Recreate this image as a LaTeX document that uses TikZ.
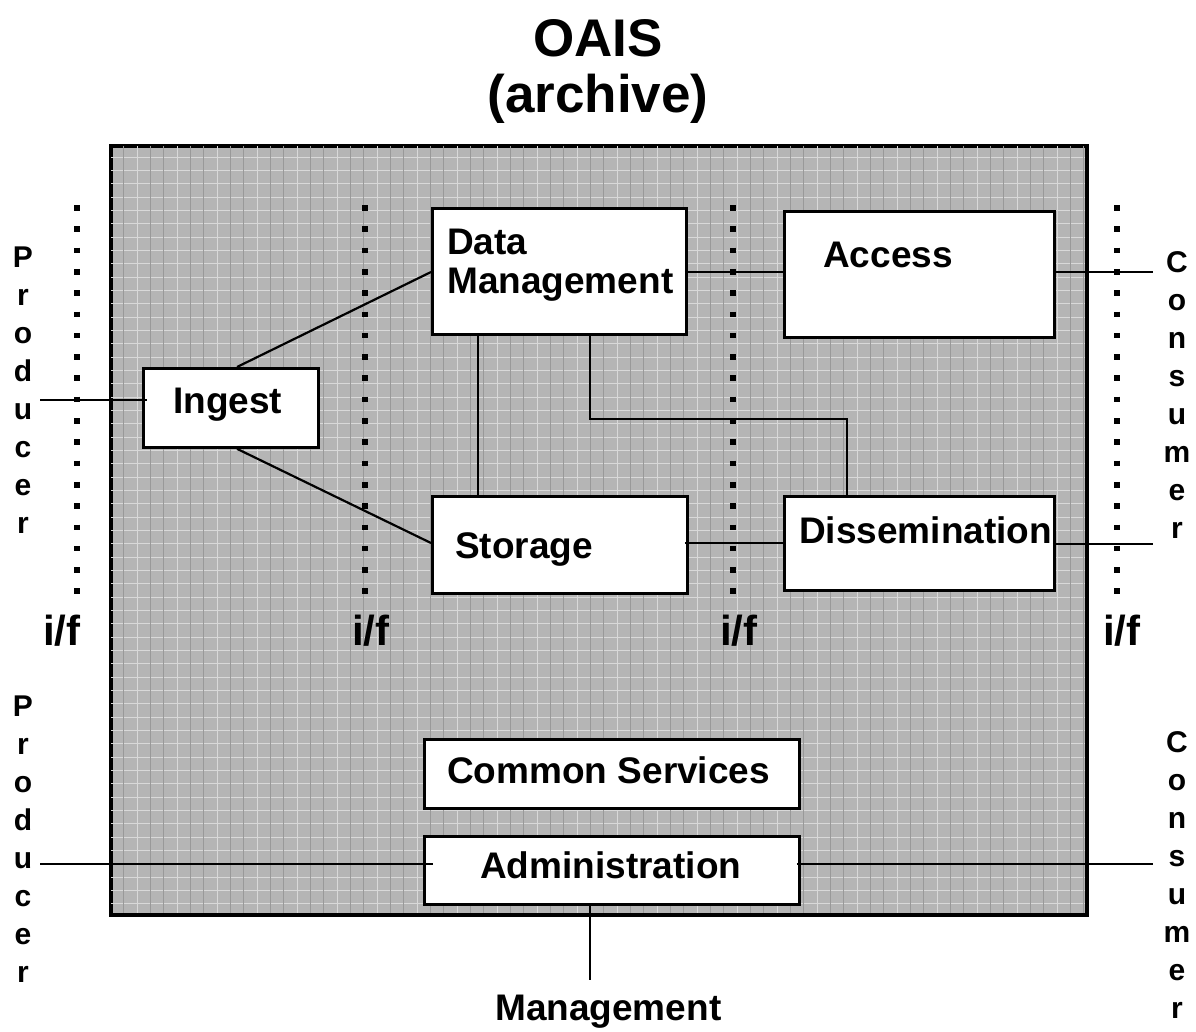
\documentclass[tikz,border=0pt]{standalone}
\usepackage{fontspec}
\setmainfont{Liberation Sans}
\usetikzlibrary{calc}
\begin{document}
\begin{tikzpicture}[x=1pt,y=-1pt,
  archive/.style={draw, line width=2.7pt, fill=black!29, inner sep=0, anchor=north west},
  box/.style={draw, line width=2.8pt, fill=white, inner sep=0, anchor=north west},
  conn/.style={line width=2.2pt},
  ifline/.style={line width=6pt, dash pattern=on 5.6pt off 15.7pt},
  lbl/.style={font=\fontsize{37}{40}\selectfont\bfseries, inner sep=0, anchor=base west},
  iflbl/.style={font=\fontsize{42}{44}\selectfont\bfseries, inner sep=0, anchor=base west},
  vlbl/.style={font=\fontsize{30}{38}\selectfont\bfseries, align=center, inner sep=0, anchor=north},
  ttl/.style={font=\fontsize{53}{56}\selectfont\bfseries, align=center, inner sep=0, anchor=north}]
\useasboundingbox (0,0) rectangle (1196,1031);

% title
\node[ttl] (title) at (598,19) {OAIS\\(archive)};

% archive area
\node[archive, minimum width=975, minimum height=768] (oais) at (110,145) {};
\begin{scope}
  \clip (110,145) rectangle (1085,913);
  \foreach \i in {0,...,60} {
    \draw[white!85!black, line width=0.6pt] (110,157+13.33*\i) -- (1085,157+13.33*\i);
  }
  \foreach \i in {0,...,24} {
    \draw[white!85!black, line width=0.8pt] (137+40*\i,145) -- (137+40*\i,913);
    \draw[white!60!black, line width=0.5pt] (123+40*\i,145) -- (123+40*\i,913);
    \draw[white!60!black, line width=0.5pt] (150+40*\i,145) -- (150+40*\i,913);
  }
\end{scope}
\draw[line width=2.7pt] (oais.north west) rectangle (oais.south east);

% interface dotted lines
\foreach \x/\n in {77/a,365/b,733/c,1117/d} {
  \coordinate (if\n top) at (\x,205);
  \coordinate (if\n bot) at (\x,596);
  \draw[ifline] (if\n top) -- (if\n bot);
}
\node[iflbl] (ifa) at (43,645) {i/f};
\node[iflbl] (ifb) at (352,645) {i/f};
\node[iflbl] (ifc) at (720,645) {i/f};
\node[iflbl] (ifd) at (1103,645) {i/f};

% boxes
\node[box, minimum width=175, minimum height=79] (ing) at (142,367) {};
\node[box, minimum width=254, minimum height=126] (dm) at (431,207) {};
\node[box, minimum width=255, minimum height=97] (sto) at (431,495) {};
\node[box, minimum width=270, minimum height=126] (acc) at (783,210) {};
\node[box, minimum width=270, minimum height=94] (dis) at (783,495) {};
\node[box, minimum width=375, minimum height=69] (cs) at (423,738) {};
\node[box, minimum width=375, minimum height=68] (adm) at (423,835) {};

% box labels
\node[lbl] (ingt) at (173,413) {Ingest};
\node[lbl, align=left, anchor=north west] (dmt) at (447,229) {Data\\[-1pt]Management};
\node[lbl] (stot) at (455,558) {Storage};
\node[lbl] (acct) at (823,267) {Access};
\node[lbl] (dist) at (799,543) {Dissemination};
\node[lbl] (cst) at (447,783) {Common Services};
\node[lbl] (admt) at (480,878) {Administration};
\node[lbl] (mgmt) at (495,1020) {Management};

% side labels
\node[vlbl] (prod1) at (23,247) {P\\r\\o\\d\\u\\c\\e\\r};
\node[vlbl] (prod2) at (23,696) {P\\r\\o\\d\\u\\c\\e\\r};
\node[vlbl] (cons1) at (1177,251) {C\\o\\n\\s\\u\\m\\e\\r};
\node[vlbl] (cons2) at (1177,731) {C\\o\\n\\s\\u\\m\\e\\r};

% free ends
\coordinate (pin) at (40,400);
\coordinate (cout1) at (1153,272);
\coordinate (cout2) at (1153,544);
\coordinate (pin2) at (40,864);
\coordinate (cout3) at (1153,864);
\coordinate (mout) at (590,980);

% connectors
\draw[conn] (pin) -- ($(pin -| ing.west)+(5,0)$);
\draw[conn] ($(ing.north west)+(95,0)$) -- ($(dm.north west)+(0,65)$);
\draw[conn] ($(ing.south west)+(95,0)$) -- ($(sto.north west)+(0,48)$);
\draw[conn] ($(dm.south west)+(47,0)$) -- ($(sto.north west)+(47,2)$);
\draw[conn] ($(dm.south west)+(159,0)$) -- ++(0,83) -| ($(dis.north west)+(64,3)$);
\draw[conn] ($(dm.north east)+(-3,65)$) -- ($(acc.north west)+(2,62)$);
\draw[conn] ($(acc.north east)+(-3,62)$) -- (cout1);
\draw[conn] ($(sto.north east)+(-4,48)$) -- ($(dis.north west)+(2,48)$);
\draw[conn] ($(dis.north east)+(-3,49)$) -- (cout2);
\draw[conn] (pin2) -- ($(adm.north west)+(10,29)$);
\draw[conn] ($(adm.north east)+(-4,29)$) -- (cout3);
\draw[conn] ($(adm.south west)+(167,0)$) -- (mout);
\end{tikzpicture}
\end{document}
